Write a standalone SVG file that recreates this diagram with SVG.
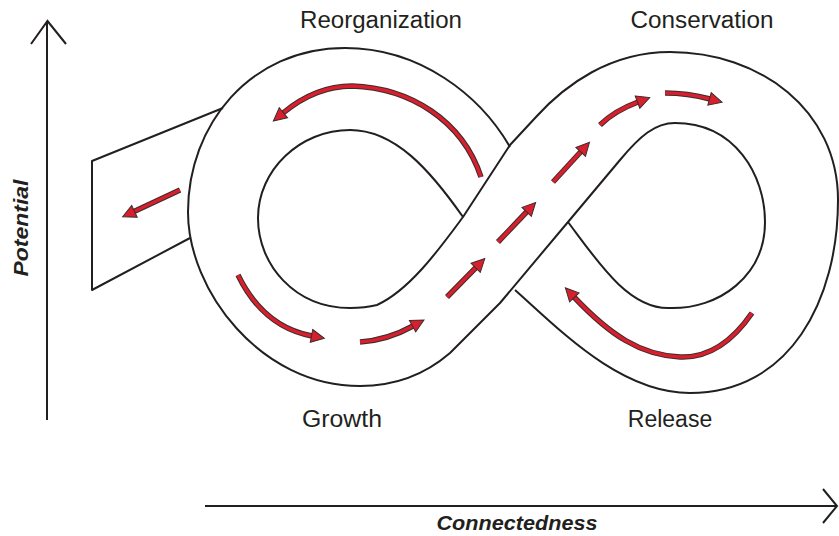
<svg xmlns="http://www.w3.org/2000/svg" xmlns:xlink="http://www.w3.org/1999/xlink" width="839" height="536" viewBox="0 0 839 536">
<style>
.ln{fill:none;stroke:#231f20;stroke-width:2;stroke-linejoin:round}
.ax{fill:none;stroke:#231f20;stroke-width:2}
.ao{fill:none;stroke:#3a2c2c;stroke-width:5.5}
.ai{fill:none;stroke:#d71f2d;stroke-width:3.5;marker-end:url(#head)}
.lb{font-family:"Liberation Sans",Arial,sans-serif;font-size:23px;fill:#231f20;text-anchor:middle}
.axl{font-family:"Liberation Sans",Arial,sans-serif;font-size:21px;font-weight:bold;font-style:italic;fill:#231f20;text-anchor:middle}
</style>
<defs>
<marker id="head" markerUnits="userSpaceOnUse" markerWidth="16" markerHeight="16" refX="0.5" refY="6.5" orient="auto" overflow="visible">
<path d="M0,0 L13,6.5 L0,13 z" fill="#d71f2d" stroke="#3a2c2c" stroke-width="1" stroke-linejoin="miter"/>
</marker>
<path id="p1" d="M180,190 L134,211.5"/>
<path id="p2" d="M481,177 C462,120 410,88 352,86 C322,86 300,99 283,113"/>
<path id="p3" d="M238,275 C255,310 280,330 312,336"/>
<path id="p4" d="M360,342 C375,341 395,336 413,326"/>
<path id="p5" d="M447,297 L476,267.5"/>
<path id="p6" d="M498,242 L527,211.5"/>
<path id="p7" d="M553,182 L581,151.5"/>
<path id="p8" d="M600,125 C610,115 622,108 638,102"/>
<path id="p9" d="M665,93 C680,93 695,95 710,99"/>
<path id="p10" d="M752,313 C730,345 705,358 680,357 C640,355 610,335 574,297"/>
</defs>

<g id="axes">
<path class="ax" d="M47,420 L47,21 M31,44 L47.5,21 L66,44"/>
<path class="ax" d="M205,506 L837,506 M823,489 L837,506 L823,523"/>
<text class="axl" x="517" y="530" textLength="161" lengthAdjust="spacingAndGlyphs">Connectedness</text>
<text class="axl" transform="translate(28,228) rotate(-90)" textLength="97" lengthAdjust="spacingAndGlyphs">Potential</text>
</g>

<g id="panel">
<path class="ln" d="M223,108 L92,161 L92,290 L190,238"/>
</g>

<g id="loop">
<path class="ln" d="M510,147 C480,95 420,48 345,48 C250,48 188,125 188,212 C188,290 260,386 360,386 C400,386 428,372 450,353 L500,303 L568,222 L620,160 C640,136 655,123 675,123 C735,123 765,175 765,222 C765,275 720,310 668,308 C628,308 598,262 568,222"/>
<path class="ln" d="M515,290 C560,330 620,393 690,393 C790,393 838,300 838,200 C838,110 760,52 670,52 C610,52 565,85 536,117 L510,145 L463,217 C440,248 410,290 377,305 C365,308 358,308 350,308 C295,308 258,265 258,218 C258,170 300,130 350,130 C395,130 430,170 463,217"/>
</g>

<g id="connectors">
<use xlink:href="#p1" class="ao"/><use xlink:href="#p1" class="ai"/>
<use xlink:href="#p2" class="ao"/><use xlink:href="#p2" class="ai"/>
<use xlink:href="#p3" class="ao"/><use xlink:href="#p3" class="ai"/>
<use xlink:href="#p4" class="ao"/><use xlink:href="#p4" class="ai"/>
<use xlink:href="#p5" class="ao"/><use xlink:href="#p5" class="ai"/>
<use xlink:href="#p6" class="ao"/><use xlink:href="#p6" class="ai"/>
<use xlink:href="#p7" class="ao"/><use xlink:href="#p7" class="ai"/>
<use xlink:href="#p8" class="ao"/><use xlink:href="#p8" class="ai"/>
<use xlink:href="#p9" class="ao"/><use xlink:href="#p9" class="ai"/>
<use xlink:href="#p10" class="ao"/><use xlink:href="#p10" class="ai"/>
</g>

<g id="reorganization"><text class="lb" x="381" y="28" textLength="162" lengthAdjust="spacingAndGlyphs">Reorganization</text></g>
<g id="conservation"><text class="lb" x="702" y="28" textLength="143" lengthAdjust="spacingAndGlyphs">Conservation</text></g>
<g id="growth"><text class="lb" x="342" y="427" textLength="80" lengthAdjust="spacingAndGlyphs">Growth</text></g>
<g id="release"><text class="lb" x="670" y="427">Release</text></g>
</svg>
